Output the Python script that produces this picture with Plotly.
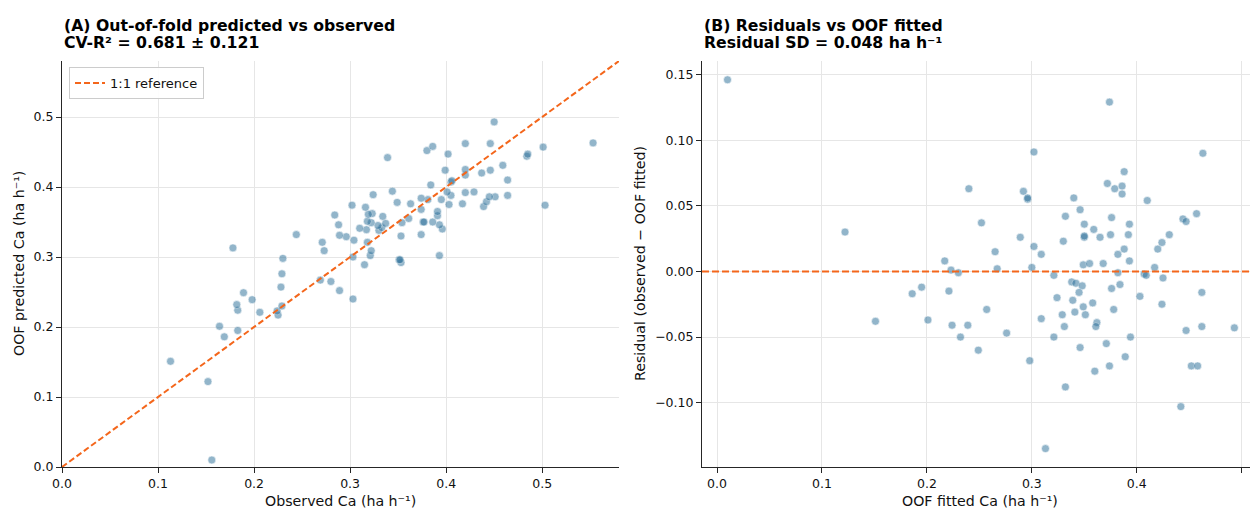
import plotly.graph_objects as go

predicted = [0.010, 0.374, 0.302, 0.463, 0.388, 0.372, 0.379, 0.386, 0.386, 0.240,
             0.292, 0.296, 0.296, 0.340, 0.410, 0.346, 0.332, 0.376, 0.444, 0.447,
             0.457, 0.350, 0.393, 0.252, 0.122, 0.359, 0.375, 0.392, 0.431, 0.289,
             0.350, 0.350, 0.365, 0.330, 0.424, 0.302, 0.420, 0.388, 0.265, 0.309,
             0.382, 0.217, 0.393, 0.349, 0.355, 0.368, 0.300, 0.267, 0.417, 0.223,
             0.230, 0.382, 0.321, 0.407, 0.409, 0.425, 0.338, 0.342, 0.348, 0.384,
             0.376, 0.195, 0.186, 0.221, 0.345, 0.462, 0.403, 0.324, 0.339, 0.358,
             0.424, 0.349, 0.378, 0.257, 0.341, 0.351, 0.329, 0.309, 0.201, 0.151,
             0.362, 0.361, 0.224, 0.239, 0.331, 0.462, 0.493, 0.447, 0.276, 0.232,
             0.321, 0.394, 0.371, 0.346, 0.249, 0.389, 0.298, 0.374, 0.452, 0.458,
             0.360, 0.332, 0.442, 0.313]
observed = [0.156, 0.503, 0.393, 0.553, 0.464, 0.439, 0.442, 0.451, 0.445, 0.303,
            0.353, 0.351, 0.352, 0.396, 0.464, 0.393, 0.374, 0.417, 0.484, 0.485,
            0.501, 0.386, 0.429, 0.289, 0.152, 0.391, 0.403, 0.420, 0.459, 0.315,
            0.376, 0.377, 0.391, 0.353, 0.446, 0.321, 0.437, 0.405, 0.280, 0.322,
            0.395, 0.225, 0.401, 0.354, 0.361, 0.374, 0.303, 0.269, 0.420, 0.224,
            0.229, 0.381, 0.318, 0.405, 0.406, 0.420, 0.330, 0.333, 0.337, 0.374,
            0.363, 0.183, 0.169, 0.206, 0.329, 0.446, 0.384, 0.304, 0.317, 0.334,
            0.399, 0.322, 0.349, 0.228, 0.310, 0.318, 0.296, 0.273, 0.164, 0.113,
            0.323, 0.319, 0.183, 0.198, 0.289, 0.420, 0.450, 0.402, 0.229, 0.182,
            0.271, 0.344, 0.316, 0.288, 0.189, 0.324, 0.230, 0.302, 0.380, 0.386,
            0.284, 0.244, 0.339, 0.178]
residual = [o - p for o, p in zip(observed, predicted)]

ref_line = [0.0, 0.58]
x_ticks_a = [0.0, 0.1, 0.2, 0.3, 0.4, 0.5]
y_ticks_a = [0.0, 0.1, 0.2, 0.3, 0.4, 0.5]
x_ticks_b = [0.0, 0.1, 0.2, 0.3, 0.4, 0.5]
y_ticks_b = [-0.10, -0.05, 0.0, 0.05, 0.10, 0.15]

W, H = 1250, 508
FONT = "DejaVu Sans"
POINT = "#2f729b"
ORANGE = "#f4661b"
AXC = "#262626"
GRID = "#e6e6e6"

def px(v):
    return v / W

def py(v):
    return 1 - v / H

fig = go.Figure()

marker_style = dict(size=8, color=POINT, opacity=0.52, line=dict(color="white", width=0.6))

fig.add_trace(go.Scatter(
    x=observed, y=predicted, mode="markers", showlegend=False,
    marker=marker_style, xaxis="x", yaxis="y", hoverinfo="skip"))
fig.add_trace(go.Scatter(
    x=ref_line, y=ref_line, mode="lines", name="1:1 reference",
    line=dict(color=ORANGE, width=2, dash="6px,3px"),
    xaxis="x", yaxis="y"))
fig.add_trace(go.Scatter(
    x=predicted, y=residual, mode="markers", showlegend=False,
    marker=marker_style, xaxis="x2", yaxis="y2", hoverinfo="skip"))

fig.add_shape(type="line", xref="x2 domain", yref="y2", x0=0, x1=1, y0=0, y1=0,
              line=dict(color=ORANGE, width=2, dash="7px,3px"))

ydom = [py(467), py(61)]
axis_common = dict(showline=True, linecolor=AXC, linewidth=1.1, ticks="outside",
                   ticklen=5, tickwidth=1.1, tickcolor=AXC, showgrid=True,
                   gridcolor=GRID, gridwidth=0.8, zeroline=False, automargin=False,
                   tickfont=dict(family=FONT, size=12.5, color="#111"))

fig.update_layout(
    width=W, height=H, margin=dict(l=0, r=0, t=0, b=0, autoexpand=False),
    paper_bgcolor="white", plot_bgcolor="white",
    font=dict(family=FONT, color="#111"),
    xaxis=dict(domain=[px(62), px(619)], range=[0, 0.58], tickvals=x_ticks_a,
               tickformat=".1f", anchor="y", **axis_common),
    yaxis=dict(domain=ydom, range=[0, 0.58], tickvals=y_ticks_a,
               tickformat=".1f", anchor="x", **axis_common),
    xaxis2=dict(domain=[px(702), 1.0], range=[-0.0143, 0.5079], tickvals=x_ticks_b,
                tickformat=".1f", anchor="y2", **axis_common),
    yaxis2=dict(domain=ydom, range=[-0.149, 0.1603], tickvals=y_ticks_b,
                tickformat=".2f", anchor="x2", **axis_common),
    legend=dict(x=px(69), y=py(67), xanchor="left", yanchor="top",
                bgcolor="rgba(255,255,255,0.9)", bordercolor="#cccccc", borderwidth=1,
                font=dict(family=FONT, size=13, color="#111"),
                itemwidth=30, tracegroupgap=0),
    showlegend=True,
)

ann = []
title_font = dict(family=FONT, size=15.7, color="#000")
ann.append(dict(text="<b>(A) Out-of-fold predicted vs observed</b>", x=px(62), y=py(25)))
ann.append(dict(text="<b>CV-R² = 0.681 ± 0.121</b>", x=px(62), y=py(43)))
ann.append(dict(text="<b>(B) Residuals vs OOF fitted</b>", x=px(702), y=py(25)))
ann.append(dict(text="<b>Residual SD = 0.048 ha h⁻¹</b>", x=px(702), y=py(43)))
for a in ann:
    fig.add_annotation(xref="paper", yref="paper", xanchor="left", yanchor="middle",
                       showarrow=False, font=title_font, **a)

label_font = dict(family=FONT, size=14.2, color="#111")
fig.add_annotation(text="Observed Ca (ha h⁻¹)", x=px(340.5), y=py(501), xref="paper",
                   yref="paper", showarrow=False, xanchor="center", yanchor="middle",
                   font=label_font)
fig.add_annotation(text="OOF fitted Ca (ha h⁻¹)", x=px(980), y=py(501), xref="paper",
                   yref="paper", showarrow=False, xanchor="center", yanchor="middle",
                   font=label_font)
fig.add_annotation(text="OOF predicted Ca (ha h⁻¹)", x=px(19), y=py(264), xref="paper",
                   yref="paper", showarrow=False, xanchor="center", yanchor="middle",
                   textangle=-90, font=label_font)
fig.add_annotation(text="Residual (observed − OOF fitted)", x=px(640), y=py(264),
                   xref="paper", yref="paper", showarrow=False, xanchor="center",
                   yanchor="middle", textangle=-90, font=label_font)

fig.write_html("out.html")
